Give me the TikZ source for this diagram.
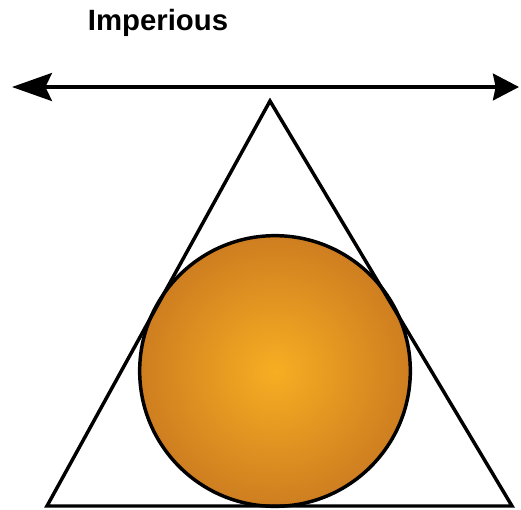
\documentclass[tikz,border=0pt]{standalone}
\usepackage{fontspec}
\setmainfont{Liberation Sans}
\usetikzlibrary{arrows.meta,positioning}
\definecolor{ballinner}{RGB}{247,174,34}
\definecolor{ballouter}{RGB}{206,126,32}

\begin{document}
\begin{tikzpicture}[x=0.75pt, y=-0.75pt, >=Stealth]
            \useasboundingbox (0,0) rectangle (521,510);
            % Title above the arrow
            \node [font=\fontsize{22}{24}\selectfont\bfseries, anchor=base] (title) at (158,30.5) {Imperious};

            % Double arrow
            \coordinate (lefttip) at (12,87);
            \coordinate (righttip) at (519,87);
            \draw [line width=2.6pt, {Stealth[length=30pt, width=21pt, inset=5pt]}-{Stealth[length=19.5pt, width=20pt, inset=2pt]}] (lefttip) -- (righttip);

            % Triangle and the ball inside it
            \coordinate (apex) at (270,101);
            \coordinate (baseleft) at (47,506);
            \coordinate (baseright) at (512,506);
            \coordinate (ballcenter) at (275,371);
            \shade [inner color=ballinner, outer color=ballouter] (ballcenter) circle [radius=101.5pt];
            \draw [line width=2.6pt, line join=miter] (apex) -- (baseleft) -- (baseright) -- cycle;
            \draw [line width=2.6pt] (ballcenter) circle [radius=101.5pt];
        \end{tikzpicture}
\end{document}
